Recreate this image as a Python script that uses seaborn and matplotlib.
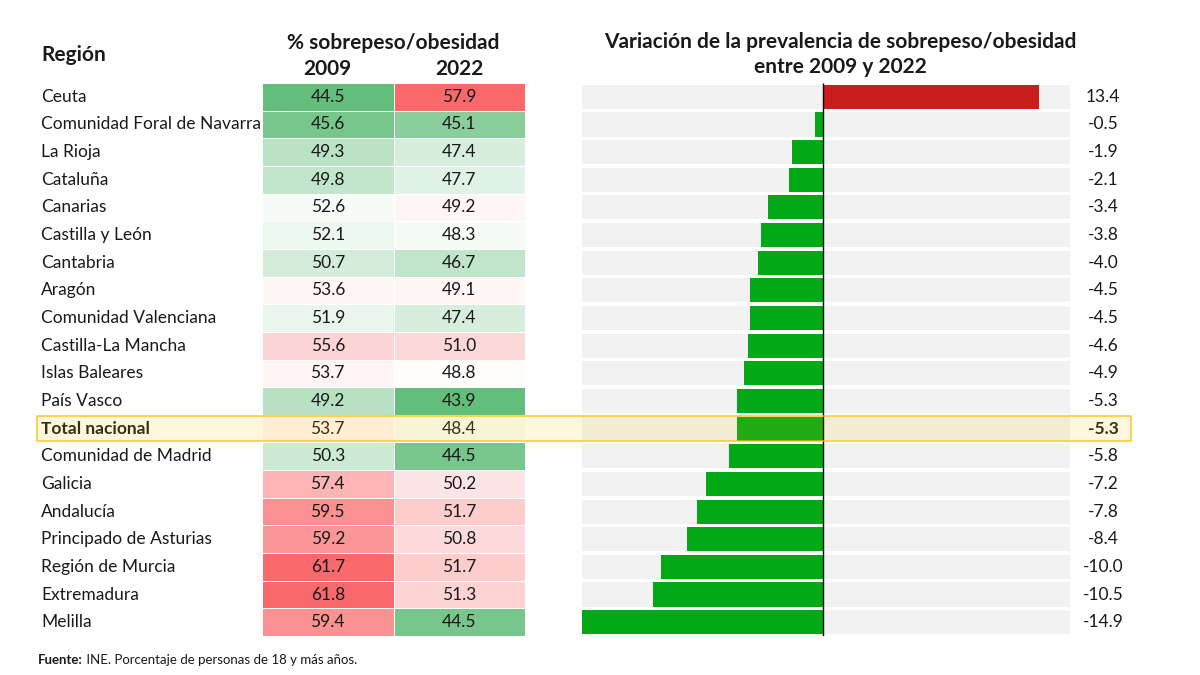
import numpy as np
import pandas as pd
import matplotlib
matplotlib.use("Agg")
import matplotlib.pyplot as plt
import matplotlib.transforms as mtransforms
from matplotlib.colors import LinearSegmentedColormap, TwoSlopeNorm
from matplotlib.patches import Rectangle
import seaborn as sns

# Datos
regiones = ['Ceuta', 'Comunidad Foral de Navarra', 'La Rioja', 'Cataluña', 'Canarias',
            'Castilla y León', 'Cantabria', 'Aragón', 'Comunidad Valenciana',
            'Castilla-La Mancha', 'Islas Baleares', 'País Vasco', 'Total nacional',
            'Comunidad de Madrid', 'Galicia', 'Andalucía', 'Principado de Asturias',
            'Región de Murcia', 'Extremadura', 'Melilla']
val_2009 = [44.5, 45.6, 49.3, 49.8, 52.6, 52.1, 50.7, 53.6, 51.9, 55.6,
            53.7, 49.2, 53.7, 50.3, 57.4, 59.5, 59.2, 61.7, 61.8, 59.4]
val_2022 = [57.9, 45.1, 47.4, 47.7, 49.2, 48.3, 46.7, 49.1, 47.4, 51.0,
            48.8, 43.9, 48.4, 44.5, 50.2, 51.7, 50.8, 51.7, 51.3, 44.5]
variacion = [13.4, -0.5, -1.9, -2.1, -3.4, -3.8, -4.0, -4.5, -4.5, -4.6,
             -4.9, -5.3, -5.3, -5.8, -7.2, -7.8, -8.4, -10.0, -10.5, -14.9]
anios = ['2009', '2022']
destacado = 'Total nacional'

df = pd.DataFrame({'2009': val_2009, '2022': val_2022}, index=regiones)

# Escala de color tipo Excel (verde - blanco - rojo), por columna, centro en la mediana
cmap = LinearSegmentedColormap.from_list('vbr', ['#63BE7B', '#FFFFFF', '#F8696B'])
norm_df = df.copy()
for c in df.columns:
    n = TwoSlopeNorm(vmin=df[c].min(), vcenter=df[c].median(), vmax=df[c].max())
    norm_df[c] = n(df[c].values)

plt.rcParams['font.family'] = ['Lato', 'DejaVu Sans']
txt_col = '#1a1a1a'

fig = plt.figure(figsize=(12, 6.75), dpi=100)
H = 675.0
W = 1200.0
top_px, bot_px = 83, 636
ax_h = fig.add_axes([262 / W, 1 - bot_px / H, 263 / W, (bot_px - top_px) / H])
ax_b = fig.add_axes([582 / W, 1 - bot_px / H, 488 / W, (bot_px - top_px) / H])

sns.heatmap(norm_df, ax=ax_h, cmap=cmap, vmin=0, vmax=1, cbar=False,
            annot=df.values, fmt='.1f', linewidths=0.6, linecolor='white',
            annot_kws={'fontsize': 12.5, 'color': txt_col})
ax_h.set_xticks([])
ax_h.set_yticks([])
ax_h.set_xlabel('')
ax_h.set_ylabel('')

# Nombres de region
tr_lab = mtransforms.blended_transform_factory(fig.transFigure, ax_h.transData)
for i, r in enumerate(regiones):
    ax_h.text(41 / W, i + 0.5, r, transform=tr_lab, ha='left', va='center',
              fontsize=12.5, color=txt_col,
              fontweight='bold' if r == destacado else 'normal')

# Grafico de barras de variacion
xmin, xmax = min(variacion), 15.3
ax_b.barh(np.arange(len(regiones)), xmax - xmin, left=xmin, height=0.87,
          color='#F2F2F2', zorder=0)
colores = {r: ('#C81E1E' if v > 0 else '#02A816') for r, v in zip(regiones, variacion)}
sns.barplot(x=variacion, y=regiones, hue=regiones, palette=colores, legend=False,
            orient='h', width=0.87, saturation=1, ax=ax_b, zorder=2)
ax_b.set_xlim(xmin, xmax)
ax_b.set_ylim(len(regiones) - 0.5, -0.5)
ax_b.vlines(0, -0.5, len(regiones) - 0.5, color='black', lw=1, zorder=3)
ax_b.axis('off')

tr_val = mtransforms.blended_transform_factory(fig.transFigure, ax_b.transData)
for i, (r, v) in enumerate(zip(regiones, variacion)):
    ax_b.text(1103 / W, i, f'{v:.1f}', transform=tr_val, ha='center', va='center',
              fontsize=12.5, color=txt_col,
              fontweight='bold' if r == destacado else 'normal', clip_on=False)

# Fila destacada
k = regiones.index(destacado)
rect = Rectangle((37 / W, k + 0.05), (1131 - 37) / W, 0.9, transform=tr_lab,
                 facecolor=(1.0, 0.75, 0.0, 0.13), edgecolor=(1.0, 0.75, 0.0, 0.7),
                 lw=1.3, zorder=10, clip_on=False)
fig.patches.append(rect)

# Cabeceras
hdr = 15
fig.text(41 / W, 1 - 55 / H, 'Región', ha='left', va='center', fontsize=hdr,
         fontweight='bold', color=txt_col)
fig.text(393 / W, 1 - 43 / H, '% sobrepeso/obesidad', ha='center', va='center',
         fontsize=hdr, fontweight='bold', color=txt_col)
for j, a in enumerate(anios):
    ax_h.text(j + 0.5, -0.5, a, ha='center', va='center', fontsize=hdr,
              fontweight='bold', color=txt_col, clip_on=False)
fig.text(840 / W, 1 - 42 / H, 'Variación de la prevalencia de sobrepeso/obesidad',
         ha='center', va='center', fontsize=hdr, fontweight='bold', color=txt_col)
fig.text(840 / W, 1 - 67 / H, 'entre 2009 y 2022',
         ha='center', va='center', fontsize=hdr, fontweight='bold', color=txt_col)

# Fuente
t1 = fig.text(38 / W, 1 - 660 / H, 'Fuente:', ha='left', va='center', fontsize=9.5,
              fontweight='bold', color=txt_col)
fig.canvas.draw()
bb = t1.get_window_extent()
fig.text(bb.x1 / W, 1 - 660 / H, ' INE. Porcentaje de personas de 18 y más años.',
         ha='left', va='center', fontsize=9.5, color=txt_col)

fig.savefig('out.png', dpi=100)
